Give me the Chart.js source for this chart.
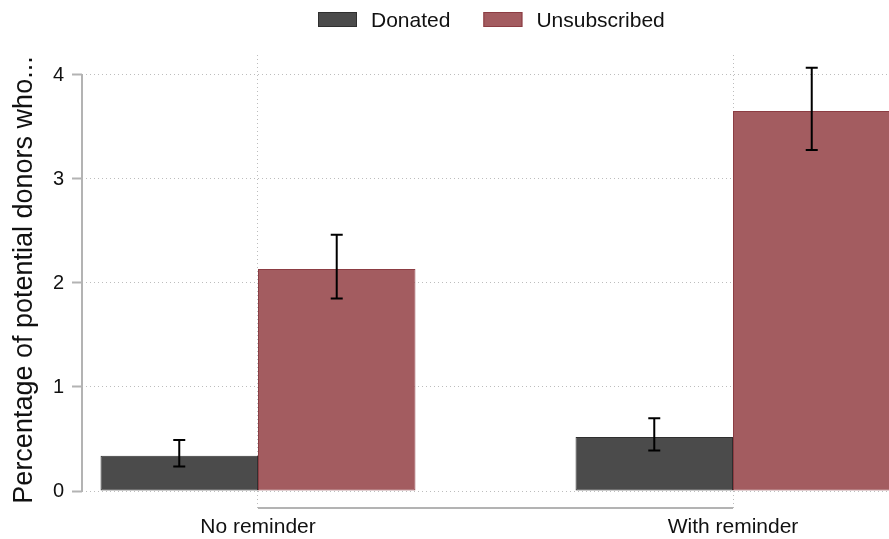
<!DOCTYPE html>
<html>
<head>
<meta charset="utf-8">
<title>Donations and unsubscriptions</title>
<script src="https://cdn.jsdelivr.net/npm/chart.js@4.4.1/dist/chart.umd.min.js"></script>
<style>
  html, body { margin: 0; padding: 0; background: #fff; }
</style>
</head>
<body>
<canvas id="chart" width="889" height="539"></canvas>
<script>
// groups on the x axis and where they sit on the linear scale
const groups = ["No reminder", "With reminder"];
const groupPos = [1, 2];

// percentages with 95% intervals
const donated = [0.34, 0.52];
const donatedLow = [0.235, 0.39];
const donatedHigh = [0.49, 0.70];

const unsubscribed = [2.135, 3.655];
const unsubscribedLow = [1.85, 3.28];
const unsubscribedHigh = [2.465, 4.07];

const yTicks = [0, 1, 2, 3, 4];
const yTitle = "Percentage of potential donors who...";

const fontFamily = "'Liberation Sans', Arial, sans-serif";
Chart.defaults.font.family = fontFamily;
Chart.defaults.color = "#111";

const toPoints = vals => vals.map((v, i) => ({ x: groupPos[i], y: v }));

const axisGray = "#b3b3b3";
const gridGray = "#bdbdbd";

// error bars, axis lines, y title and the legend strip
const extras = {
  id: "extras",
  afterDatasetsDraw(chart) {
    const ctx = chart.ctx;
    const y = chart.scales.y;
    ctx.save();
    ctx.strokeStyle = "#000";
    ctx.lineWidth = 2;
    chart.data.datasets.forEach((ds, i) => {
      chart.getDatasetMeta(i).data.forEach((bar, j) => {
        const lo = y.getPixelForValue(ds.low[j]);
        const hi = y.getPixelForValue(ds.high[j]);
        ctx.beginPath();
        ctx.moveTo(bar.x, lo); ctx.lineTo(bar.x, hi);
        ctx.moveTo(bar.x - 6, lo); ctx.lineTo(bar.x + 6, lo);
        ctx.moveTo(bar.x - 6, hi); ctx.lineTo(bar.x + 6, hi);
        ctx.stroke();
      });
    });
    ctx.restore();
  },
  afterDraw(chart) {
    const ctx = chart.ctx;
    const { x, y } = chart.scales;
    const area = chart.chartArea;
    ctx.save();
    ctx.strokeStyle = axisGray;
    ctx.lineWidth = 2;
    // y axis only spans the tick range
    ctx.beginPath();
    ctx.moveTo(area.left, y.getPixelForValue(yTicks[0]) + 1);
    ctx.lineTo(area.left, y.getPixelForValue(yTicks[yTicks.length - 1]) - 1);
    // x axis runs between the group centres
    const xb = area.bottom + 17;
    ctx.moveTo(x.getPixelForValue(groupPos[0]), xb);
    ctx.lineTo(x.getPixelForValue(groupPos[groupPos.length - 1]), xb);
    ctx.stroke();

    // rotated y title, a little below the plot centre
    ctx.save();
    ctx.translate(32, 280);
    ctx.rotate(-Math.PI / 2);
    ctx.font = "27px " + fontFamily;
    ctx.textAlign = "center";
    ctx.textBaseline = "alphabetic";
    ctx.fillStyle = "#111";
    ctx.fillText(yTitle, 0, 0);
    ctx.restore();

    // legend
    ctx.font = "21px " + fontFamily;
    ctx.textBaseline = "alphabetic";
    let lx = 318;
    chart.data.datasets.forEach(ds => {
      ctx.fillStyle = ds.backgroundColor;
      ctx.fillRect(lx, 12, 39, 15);
      ctx.strokeStyle = ds.borderColor;
      ctx.lineWidth = 1;
      ctx.strokeRect(lx + 0.5, 12.5, 38, 14);
      ctx.fillStyle = "#111";
      ctx.fillText(ds.label, lx + 53, 27);
      lx += 53 + ctx.measureText(ds.label).width + 33;
    });
    ctx.restore();
  }
};

new Chart(document.getElementById("chart"), {
  type: "bar",
  data: {
    datasets: [
      {
        label: "Donated",
        data: toPoints(donated),
        low: donatedLow,
        high: donatedHigh,
        backgroundColor: "#4b4b4b",
        borderColor: "#2f2f2f",
        borderWidth: 1,
        borderSkipped: false
      },
      {
        label: "Unsubscribed",
        data: toPoints(unsubscribed),
        low: unsubscribedLow,
        high: unsubscribedHigh,
        backgroundColor: "#a35c60",
        borderColor: "#8c3d43",
        borderWidth: 1,
        borderSkipped: false
      }
    ]
  },
  options: {
    responsive: false,
    animation: false,
    categoryPercentage: 0.663,
    barPercentage: 1,
    layout: { padding: { top: 55, right: 0, left: 0, bottom: 0 } },
    plugins: {
      legend: { display: false },
      tooltip: { enabled: false }
    },
    scales: {
      x: {
        type: "linear",
        min: 0.6295,
        max: 2.3284,
        offset: false,
        afterBuildTicks: s => { s.ticks = groupPos.map(v => ({ value: v })); },
        afterFit: s => { s.height = 48; },
        ticks: {
          callback: v => groups[groupPos.indexOf(v)],
          font: { size: 21 },
          padding: 7,
          maxRotation: 0,
          autoSkip: false
        },
        grid: {
          offset: false,
          color: gridGray,
          tickColor: gridGray,
          tickLength: 17,
          tickBorderDash: [1, 3]
        },
        border: { display: false, dash: [1, 3] }
      },
      y: {
        min: 0,
        max: 4.1923,
        afterBuildTicks: s => { s.ticks = yTicks.map(v => ({ value: v })); },
        afterFit: s => { s.width = 82; },
        ticks: {
          font: { size: 20 },
          padding: 8
        },
        grid: {
          color: gridGray,
          tickColor: axisGray,
          tickWidth: 2,
          tickLength: 10,
          tickBorderDash: []
        },
        border: { display: false, dash: [1, 3] }
      }
    }
  },
  plugins: [extras]
});
</script>
</body>
</html>
